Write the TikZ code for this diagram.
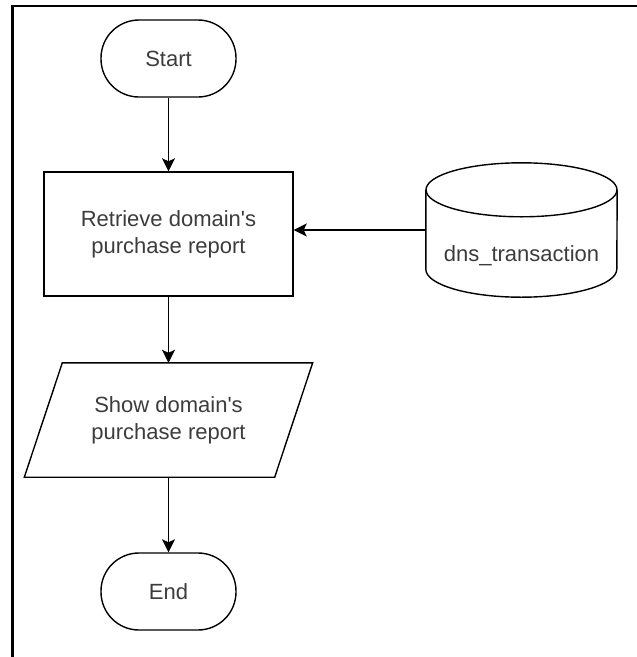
\documentclass[tikz,border=0pt]{standalone}
\usepackage{fontspec}
\setmainfont{Liberation Sans}
\usetikzlibrary{arrows.meta}
\definecolor{txt}{RGB}{60,60,60}
\begin{document}
\begin{tikzpicture}[x=1pt,y=1pt,
  every node/.style={font=\fontsize{22}{27}\selectfont, text=txt, align=center, inner sep=0pt},
  shp/.style={draw=black, line width=1.4pt},
  term/.style={shp, rectangle, rounded corners=38pt, minimum width=135pt, minimum height=77pt},
  proc/.style={shp, rectangle, minimum width=249pt, minimum height=124pt},
  ghost/.style={rectangle, draw=none},
  conn/.style={line width=1.4pt, -{Stealth[length=13pt, width=13pt, inset=3pt]}}
]
\useasboundingbox (0,0) rectangle (637,-657);
\draw[line width=2.5pt] (12.5,-657) -- (12.5,-6) -- (637,-6);

\node[term] (start) at (168.5,-58.5) {Start};
\node[proc] (ret) at (168.5,-234) {Retrieve domain\textquotesingle s\\purchase report};
\node[ghost, minimum width=250pt, minimum height=114pt] (show) at (168.5,-420) {Show domain\textquotesingle s\\purchase report};
\draw[shp] ([xshift=19pt]show.north west) -- ([xshift=19pt]show.north east)
  -- ([xshift=-19pt]show.south east) -- ([xshift=-19pt]show.south west) -- cycle;
\node[term] (end) at (168.5,-591.5) {End};

\node[ghost, minimum width=191pt, minimum height=134pt] (db) at (521.5,-230) {};
\node at (521.5,-256) {dns\_transaction};
\draw[shp] ([yshift=-27pt]db.north west) -- ([yshift=28pt]db.south west)
  arc[start angle=180, end angle=360, x radius=95.5pt, y radius=28pt]
  -- ([yshift=-27pt]db.north east);
\draw[shp] ([yshift=-27pt]db.north) ellipse[x radius=95.5pt, y radius=27pt];

\draw[conn] (start) -- (ret);
\draw[conn] (db.west) -- (db.west -| ret.east);
\draw[conn] (ret) -- (show);
\draw[conn] (show) -- (end);
\end{tikzpicture}
\end{document}
